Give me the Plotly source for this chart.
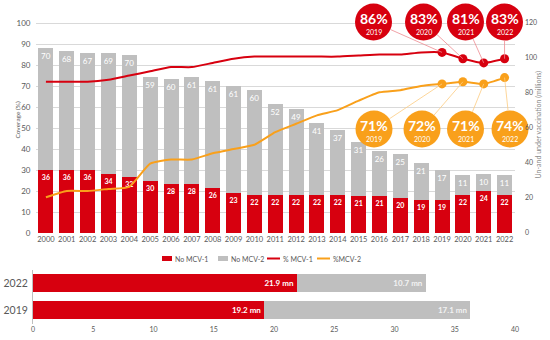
import math
import plotly.graph_objects as go

# ---------------- data ----------------
years = list(range(2000, 2023))
no_mcv1 = [36, 36, 36, 34, 32, 30, 28, 28, 26, 23, 22, 22, 22, 22, 22, 21, 21, 20, 19, 19, 22, 24, 22]
no_mcv2 = [70, 68, 67, 69, 70, 59, 60, 61, 61, 61, 60, 52, 49, 41, 37, 31, 26, 25, 21, 17, 11, 10, 11]
pct_mcv1 = [72, 72, 72, 73, 75, 77, 79, 79, 81, 83, 84, 84, 84, 84, 84, 84.5, 85, 85, 86, 86, 83, 81, 83]
pct_mcv2 = [17, 20, 20, 21, 22, 33, 35, 35, 38, 40, 42, 48, 52, 56, 58.5, 63, 67, 68, 70, 71, 72, 71, 74]

callout_years = [2019, 2020, 2021, 2022]
mcv1_callout = [86, 83, 81, 83]
mcv2_callout = [71, 72, 71, 74]

cmp_years = ["2019", "2022"]
cmp_no_mcv1 = [19.2, 21.9]
cmp_no_mcv2 = [17.1, 10.7]

legend_labels = ["No MCV-1", "No MCV-2", "% MCV-1", "%MCV-2"]

# ---------------- styles ----------------
RED = "#D7000F"
GREY = "#BFBFBF"
ORANGE = "#F9A01B"
TXT = "#595959"
FONT = "Lato"
W, H = 550, 340

def px(x):
    return x / W

def py(y):
    return 1 - y / H

# pixel geometry of the top chart (coverage 0 at Y0, 100 at Y1)
X0, X1 = 35.5, 515.0
Y0, Y1 = 233.0, 23.0
COV_MAX = 101.0
Y_TOP = Y0 - (Y0 - Y1) * COV_MAX / 100.0

def year_at(xp):
    return 1999.5 + (xp - X0) / (X1 - X0) * 23

def cov_at(yp):
    return (Y0 - yp) / (Y0 - Y1) * 100

def x_px(yr):
    return X0 + (yr - 1999.5) / 23 * (X1 - X0)

def y_px(v):
    return Y0 - v / 100 * (Y0 - Y1)

red_centers_px = [(373.5, 22), (423.5, 22), (465.5, 22), (504.5, 22)]
org_centers_px = [(374, 129), (422, 129), (465.5, 129), (510, 129)]
R_RED, R_ORG = 18.5, 18.5

fig = go.Figure()

# bars on the base (right, millions) axis
fig.add_trace(go.Bar(
    x=years, y=no_mcv1, name="No MCV-1", marker=dict(color=RED, line=dict(width=0)), yaxis="y",
    texttemplate="<b>%{y}</b>", textposition="inside", insidetextanchor="end",
    textangle=0, textfont=dict(color="white", size=7, family=FONT), constraintext="none",
))
fig.add_trace(go.Bar(
    x=years, y=no_mcv2, name="No MCV-2", marker=dict(color=GREY, line=dict(width=0)), yaxis="y",
    texttemplate="%{y}", textposition="inside", insidetextanchor="end",
    textangle=0, textfont=dict(color="white", size=8, family=FONT), constraintext="none",
))

# coverage lines on the overlaid (left, %) axis
fig.add_trace(go.Scatter(
    x=years, y=pct_mcv1, name="% MCV-1", mode="lines",
    line=dict(color=RED, width=2, shape="spline", smoothing=0.5), yaxis="y2",
))
fig.add_trace(go.Scatter(
    x=years, y=pct_mcv2, name="%MCV-2", mode="lines",
    line=dict(color=ORANGE, width=2, shape="spline", smoothing=0.5), yaxis="y2",
))

idx = [years.index(y) for y in callout_years]
fig.add_trace(go.Scatter(
    x=callout_years, y=[pct_mcv1[i] for i in idx], mode="markers",
    marker=dict(size=9, color=RED), yaxis="y2",
))
fig.add_trace(go.Scatter(
    x=callout_years, y=[pct_mcv2[i] for i in idx], mode="markers",
    marker=dict(size=9, color=ORANGE), yaxis="y2",
))

shapes = []
annotations = []
rc_x = [year_at(c[0]) for c in red_centers_px]
rc_y = [cov_at(c[1]) for c in red_centers_px]
oc_x = [year_at(c[0]) for c in org_centers_px]
oc_y = [cov_at(c[1]) for c in org_centers_px]

def connector(center, radius, yr, val, color):
    cx, cy = center
    tx, ty = x_px(yr), y_px(val)
    d = math.hypot(tx - cx, ty - cy)
    sx = cx + (tx - cx) * radius / d
    sy = cy + (ty - cy) * radius / d
    return dict(type="line", xref="paper", yref="paper", x0=px(sx), y0=py(sy), x1=px(tx), y1=py(ty),
                line=dict(color=color, width=0.8), layer="above")

for i, yr in enumerate(callout_years):
    v1 = pct_mcv1[years.index(yr)]
    v2 = pct_mcv2[years.index(yr)]
    shapes.append(connector(red_centers_px[i], R_RED, yr, v1, "#EE8A90"))
    shapes.append(connector(org_centers_px[i], R_ORG, yr, v2, "#FCCB80"))

fig.add_trace(go.Scatter(
    x=rc_x, y=rc_y, mode="markers", marker=dict(size=2 * R_RED, color=RED),
    cliponaxis=False, yaxis="y2",
))
fig.add_trace(go.Scatter(
    x=oc_x, y=oc_y, mode="markers", marker=dict(size=2 * R_ORG, color=ORANGE),
    cliponaxis=False, yaxis="y2",
))

for i, yr in enumerate(callout_years):
    for cx, cy, val in ((rc_x[i], rc_y[i], mcv1_callout[i]), (oc_x[i], oc_y[i], mcv2_callout[i])):
        annotations.append(dict(x=cx, y=cy, xref="x", yref="y2", text=f"<b>{val}%</b>",
                                showarrow=False, yshift=4, font=dict(color="white", size=14, family=FONT)))
        annotations.append(dict(x=cx, y=cy, xref="x", yref="y2", text=str(yr),
                                showarrow=False, yshift=-10, font=dict(color="white", size=7, family=FONT)))

# bottom comparison chart
fig.add_trace(go.Bar(
    y=cmp_years, x=cmp_no_mcv1, orientation="h", marker=dict(color=RED, line=dict(width=0)),
    xaxis="x2", yaxis="y3",
    texttemplate="<b>%{x} mn</b>", textposition="inside", insidetextanchor="end",
    textfont=dict(color="white", size=8, family=FONT), width=0.66,
))
fig.add_trace(go.Bar(
    y=cmp_years, x=cmp_no_mcv2, orientation="h", marker=dict(color=GREY, line=dict(width=0)),
    xaxis="x2", yaxis="y3",
    texttemplate="<b>%{x} mn</b>", textposition="inside", insidetextanchor="end",
    textfont=dict(color="#F2F2F2", size=8, family=FONT), width=0.66,
))

# manual legend
LY = 258.5
shapes.append(dict(type="rect", xref="paper", yref="paper", x0=px(162), x1=px(172),
                   y0=py(LY + 2.5), y1=py(LY - 2.5), fillcolor=RED, line=dict(width=0)))
shapes.append(dict(type="rect", xref="paper", yref="paper", x0=px(218), x1=px(228),
                   y0=py(LY + 2.5), y1=py(LY - 2.5), fillcolor=GREY, line=dict(width=0)))
shapes.append(dict(type="line", xref="paper", yref="paper", x0=px(267), x1=px(280),
                   y0=py(LY), y1=py(LY), line=dict(color=RED, width=2)))
shapes.append(dict(type="line", xref="paper", yref="paper", x0=px(317), x1=px(330),
                   y0=py(LY), y1=py(LY), line=dict(color=ORANGE, width=2)))
for lx, lab in zip([173, 229, 281, 331], legend_labels):
    annotations.append(dict(x=px(lx), y=py(LY), xref="paper", yref="paper", text=lab,
                            xanchor="left", yanchor="middle", showarrow=False,
                            font=dict(size=7, color=TXT, family=FONT)))

annotations.append(dict(x=px(11), y=py(120), xref="paper", yref="paper", text="Coverage (%)",
                        textangle=-90, showarrow=False, font=dict(size=6.5, color=TXT, family=FONT)))
annotations.append(dict(x=px(544), y=py(125), xref="paper", yref="paper",
                        text="Un-and under vaccination (millions)",
                        textangle=-90, showarrow=False, font=dict(size=7, color="#8C8C8C", family=FONT)))

fig.update_traces(showlegend=False, hoverinfo="skip")

top_domain = [py(Y0), py(Y_TOP)]
fig.update_layout(
    width=W, height=H, margin=dict(l=0, r=0, t=0, b=0, autoexpand=False),
    paper_bgcolor="white", plot_bgcolor="rgba(0,0,0,0)",
    font=dict(family=FONT, color=TXT),
    barmode="stack", bargap=0.28,
    showlegend=False, hovermode=False,
    xaxis=dict(domain=[px(X0), px(X1)], range=[1999.5, 2022.5], tickvals=years, tickangle=0,
               tickfont=dict(size=7.5, color=TXT), showgrid=False, zeroline=False, showline=False,
               anchor="y", ticks="", automargin=False),
    yaxis=dict(domain=top_domain, range=[0, 120 * COV_MAX / 100], tickvals=[0, 20, 40, 60, 80, 100, 120],
               side="right", showgrid=False, zeroline=False, tickfont=dict(size=7, color=TXT),
               anchor="x", ticklabelstandoff=9, automargin=False),
    yaxis2=dict(range=[0, COV_MAX], tickvals=list(range(0, 101, 10)), overlaying="y", side="left",
                showgrid=True, gridcolor="#D9D9D9", gridwidth=1, tickfont=dict(size=8, color=TXT),
                zeroline=False, anchor="x", ticklabelstandoff=4, automargin=False),
    xaxis2=dict(domain=[px(33), px(515)], range=[0, 40], dtick=5, anchor="y3", tickangle=0,
                showgrid=False, zeroline=False, tickfont=dict(size=7, color=TXT), automargin=False),
    yaxis3=dict(domain=[py(323.5), py(269.5)], type="category", categoryorder="array",
                categoryarray=cmp_years, anchor="x2", showline=True, linecolor="#BFBFBF",
                tickfont=dict(size=10.5, color=TXT), ticklabelstandoff=2, automargin=False),
    shapes=shapes, annotations=annotations,
)

fig.write_html("out.html", config={"displayModeBar": False, "staticPlot": True},
               post_script="document.body.style.margin='0px';document.body.style.overflow='hidden';")
